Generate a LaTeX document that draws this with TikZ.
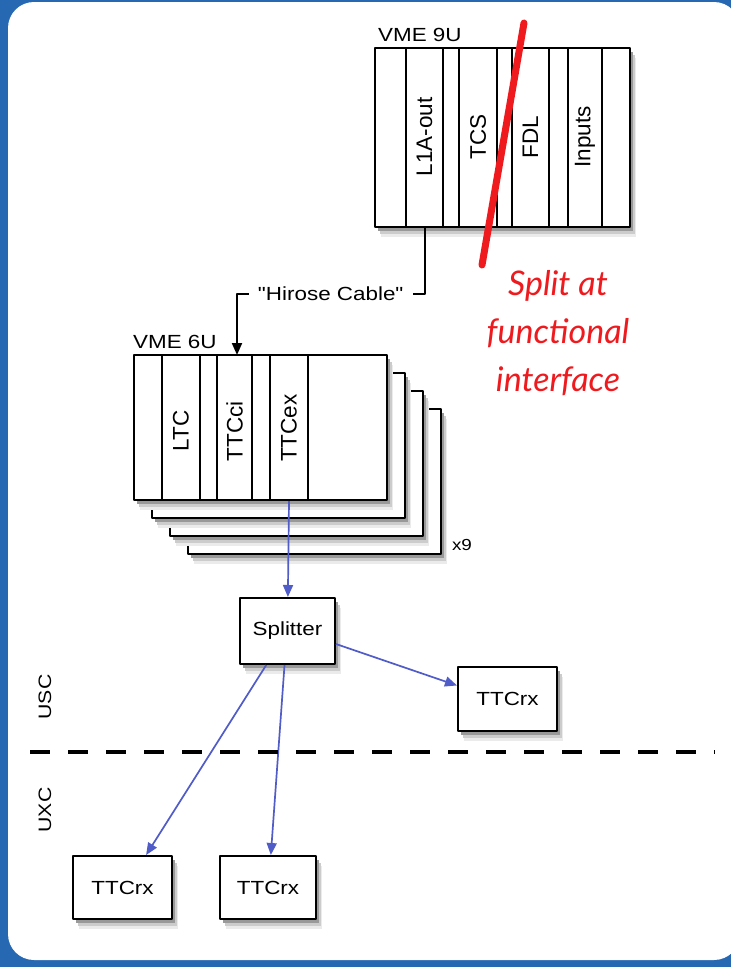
\documentclass[tikz,border=0pt]{standalone}
\usepackage{fontspec}
\setmainfont{Liberation Sans}
\newfontfamily\widefont[FakeStretch=1.18]{Liberation Sans}
\newfontfamily\notefont{Lato}
\usetikzlibrary{positioning,shadows,arrows.meta}
\definecolor{frameblue}{RGB}{38,104,178}
\definecolor{sigblue}{RGB}{80,92,200}
\definecolor{splitred}{RGB}{238,26,30}
\begin{document}
\begin{tikzpicture}[x=1pt,y=-1pt,line join=round,>={Triangle[length=12pt,width=10pt]}]
	\tikzset{
		box/.style={draw,line width=2pt,fill=white,inner sep=0pt,
			preaction={fill=black!8,transform canvas={shift={(6pt,-10pt)}}},
			preaction={fill=black!20,transform canvas={shift={(4.5pt,-7pt)}}},
			preaction={fill=black!40,transform canvas={shift={(3pt,-4pt)}}}},
		slotlbl/.style={rotate=90,font=\fontsize{22.5}{24}\selectfont},
		lbl/.style={font=\widefont\fontsize{19}{21}\selectfont},
		sig/.style={->,draw=sigblue,fill=sigblue,line width=1.7pt},
	}
	\useasboundingbox (0,0) rectangle (731,967);
	\fill[frameblue] (0,0) rectangle (731,967);
	\fill[white,rounded corners=26pt] (8,2) rectangle (740,960);
	% VME 9U crate
	\node[box,minimum width=255pt,minimum height=179pt] (vme9) at (502.5,137.5) {};
	\node[lbl,anchor=south west,inner sep=0pt] (vme9lbl) at ([xshift=4pt,yshift=5pt]vme9.north west) {VME 9U};
	\foreach \x in {406,443,459,497,512,549,568,602}
	\draw[line width=2pt] (\x,48)--(\x,227);
	\node[slotlbl] (l1a) at (424.5,137) {L1A-out};
	\node[slotlbl] (tcs) at (478,137) {TCS};
	\node[slotlbl] (fdl) at (530.5,137) {FDL};
	\node[slotlbl] (inputs) at (585,137) {Inputs};
	% split mark
	\coordinate (slashtop) at (524,23);
	\coordinate (slashbot) at (482,265);
	\draw[splitred,line width=7pt,line cap=round] (slashtop)--(slashbot);
	\node[text=splitred,align=center,font=\notefont\itshape\fontsize{34}{48}\selectfont] (splitnote) at (558,333) {Split at\\functional\\interface};
	% VME 6U crates
	\foreach \k in {3,2,1}
	\node[box,minimum width=253pt,minimum height=145pt] (vme6-\k) at (260.5+18*\k,427.5+18*\k) {};
	\node[box,minimum width=253pt,minimum height=145pt] (vme6) at (260.5,427.5) {};
	\node[lbl,anchor=south west,inner sep=0pt] (vme6lbl) at ([xshift=0pt,yshift=5pt]vme6.north west) {VME 6U};
	\foreach \x in {162,200,217,252,270,308}
	\draw[line width=2pt] (\x,355)--(\x,500);
	\node[slotlbl] (ltc) at (181,431) {LTC};
	\node[slotlbl] (ttcci) at (234.5,431) {TTCci};
	\node[slotlbl] (ttcex) at (289,428) {TTCex};
	\node[lbl,font=\widefont\fontsize{16}{18}\selectfont] (copies) at (462,545) {x9};
	% cable
	\coordinate (cabin) at (237,355);
	\draw[line width=2pt,->] (l1a |- vme9.south) -- ++(0,66) -| node[pos=.25,lbl,fill=white,inner xsep=9pt] (hirose) {"Hirose Cable"} (cabin);
	% splitter and receivers
	\node[box,lbl,minimum width=95pt,minimum height=66pt] (split) at (287.5,631) {Splitter};
	\node[box,lbl,minimum width=99pt,minimum height=64pt] (rx1) at (507.5,699) {TTCrx};
	\node[box,lbl,minimum width=99pt,minimum height=63pt] (rx2) at (122.5,887.5) {TTCrx};
	\node[box,lbl,minimum width=96pt,minimum height=63pt] (rx3) at (268,887.5) {TTCrx};
	\draw[sig] (ttcex |- vme6.south)--(split);
	\draw[sig] (split.-15)--(rx1.165);
	\draw[sig] (split.-122)--(rx2.54);
	\draw[sig] (split.265)--(rx3.85);
	% USC / UXC boundary
	\coordinate (bl) at (30,752);
	\coordinate (br) at (715,752);
	\draw[line width=4.5pt,dash pattern=on 20pt off 18pt] (bl)--(br);
	\node[slotlbl,font=\widefont\fontsize{18}{20}\selectfont] (usc) at (45,697) {USC};
	\node[slotlbl,font=\widefont\fontsize{18}{20}\selectfont] (uxc) at (45,810) {UXC};
\end{tikzpicture}
\end{document}
